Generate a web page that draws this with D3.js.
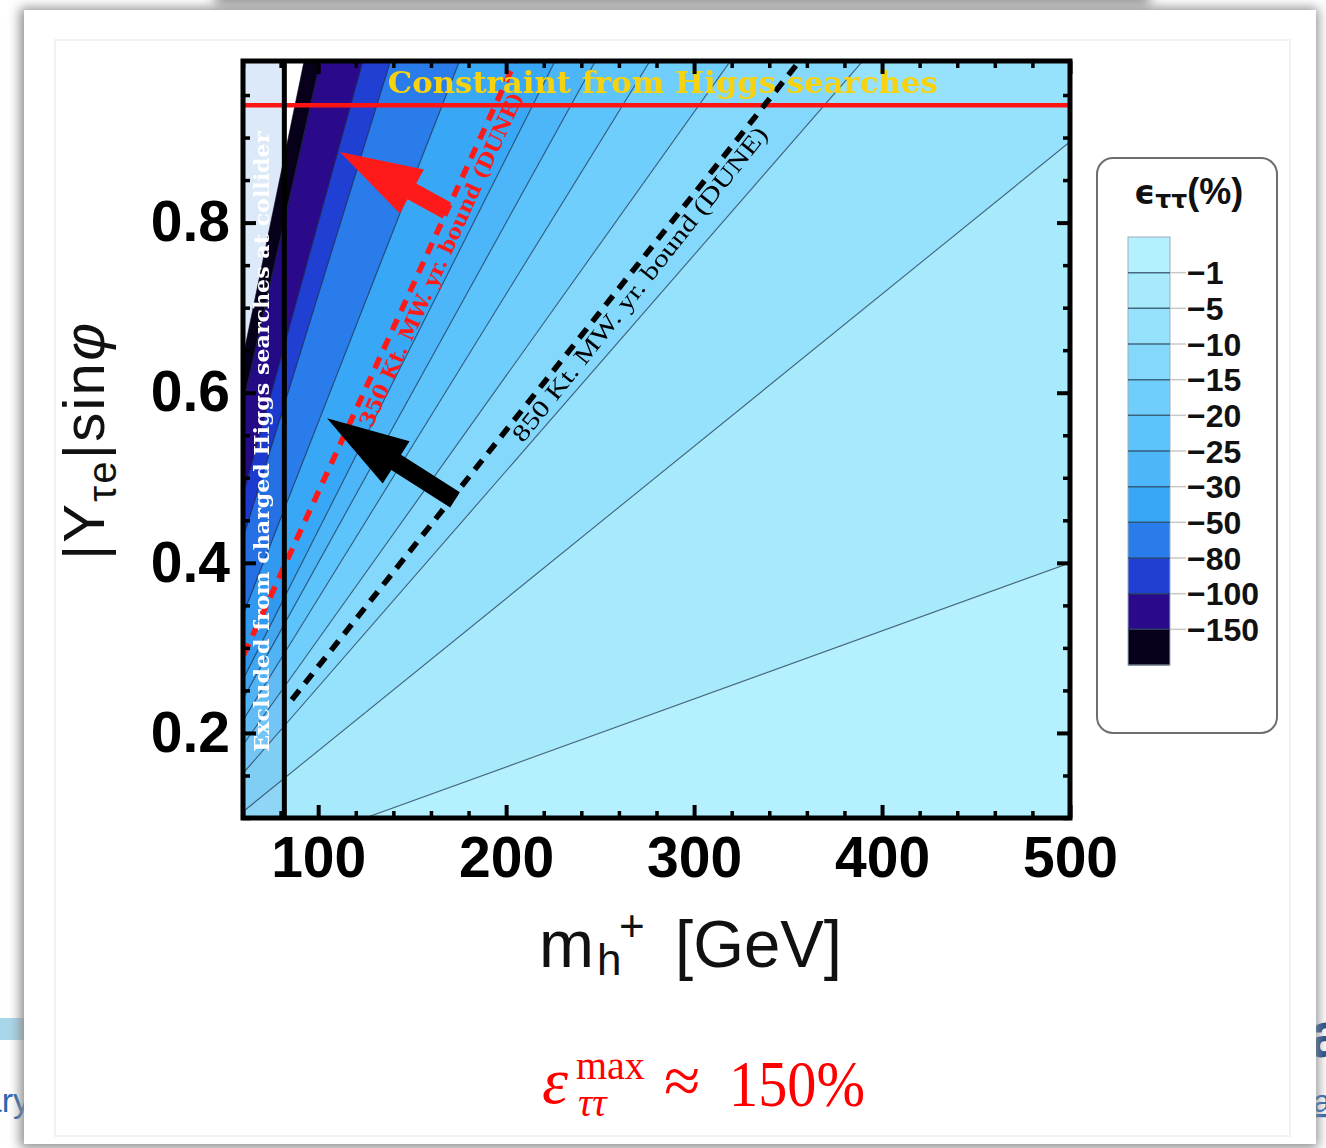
<!DOCTYPE html>
<html>
<head>
<meta charset="utf-8">
<script src="https://cdn.jsdelivr.net/npm/d3@7"></script>
<style>
  html, body { margin: 0; padding: 0; background: #fff; overflow: hidden; }
  svg { display: block; }
</style>
</head>
<body>
<svg id="chart" width="1326" height="1148"></svg>
<script>
// ε_ττ (%) contour levels and the Y/m ratio (|Y_τe| sinφ per GeV) along each contour line
const levels = [-1, -5, -10, -15, -20, -25, -30, -50, -80, -100, -150];
const contourSlopes = [0.00080, 0.00179, 0.00254, 0.00310, 0.00358, 0.00400, 0.00438, 0.00565, 0.00715, 0.00800, 0.00978];
const plotRangeSlope = 0.0107;          // surface beyond this ratio is outside the plot range (left unfilled)
const bandColors = ["#b4f0fd", "#a6eafc", "#96e2fc", "#84d8fc", "#70cefc", "#5cc4fb",
                    "#4cb6f8", "#38a8f6", "#2a7cea", "#2040d4", "#2a0a8a", "#08001a"];

// axis ticks
const xTicks = [100, 200, 300, 400, 500];
const xMinorTicks = [60, 80, 120, 140, 160, 180, 220, 240, 260, 280, 320, 340, 360, 380, 420, 440, 460, 480];
const yTicks = [0.2, 0.4, 0.6, 0.8];
const yMinorTicks = [0.1, 0.15, 0.25, 0.3, 0.35, 0.45, 0.5, 0.55, 0.65, 0.7, 0.75, 0.85, 0.9, 0.95];

// bounds and projections
const chargedHiggsBound = 82;           // GeV, collider exclusion
const higgsConstraintY = 0.938;         // Higgs-search constraint on |Y_τe| sinφ
const dune350Slope = 0.00483;           // 350 kt·MW·yr DUNE bound, Y/m
const dune850Slope = 0.00278;           // 850 kt·MW·yr DUNE bound, Y/m
const dune850StartM = 86;

const svg = d3.select("#chart");
const defs = svg.append("defs");

// ---------- slide background ----------
defs.append("filter").attr("id", "soft").attr("x", "-20%").attr("y", "-20%").attr("width", "140%").attr("height", "140%")
  .append("feGaussianBlur").attr("stdDeviation", 6);
const bg = svg.append("g");
bg.append("rect").attr("x", 215).attr("y", -24).attr("width", 935).attr("height", 30)
  .attr("fill", "#9a9a9a").attr("filter", "url(#soft)");
bg.append("rect").attr("x", 0).attr("y", 1018).attr("width", 40).attr("height", 22).attr("fill", "#a9d6ea");
bg.append("text").attr("x", 30).attr("y", 1112).attr("text-anchor", "end")
  .attr("font-family", "Liberation Sans, Arial, sans-serif").attr("font-size", 34).attr("fill", "#2a66b0").text("ary");
bg.append("text").attr("x", 1309).attr("y", 1057)
  .attr("font-family", "Liberation Sans, Arial, sans-serif").attr("font-weight", "bold").attr("font-size", 64).attr("fill", "#1d4e8f").text("a");
bg.append("text").attr("x", 1313).attr("y", 1112)
  .attr("font-family", "Liberation Sans, Arial, sans-serif").attr("font-size", 32).attr("fill", "#2a66b0")
  .attr("text-decoration", "underline").text("a");
// card with shadow
bg.append("rect").attr("x", 20).attr("y", 8).attr("width", 1298).attr("height", 1140)
  .attr("fill", "#8c8c8c").attr("filter", "url(#soft)");
bg.append("rect").attr("x", 24).attr("y", 10).attr("width", 1292).attr("height", 1134).attr("fill", "#fff");
bg.append("rect").attr("x", 55).attr("y", 40).attr("width", 1235).attr("height", 1096)
  .attr("fill", "none").attr("stroke", "#f2f2f2").attr("stroke-width", 2);

// ---------- scales ----------
const x = d3.scaleLinear().domain([60, 500]).range([243, 1070]);
const y = d3.scaleLinear().domain([0.1, 0.99]).range([818, 61]);
const FAR = 3000;
const px = p => [x(p[0]), y(p[1])];

defs.append("clipPath").attr("id", "plotClip")
  .append("rect").attr("x", x(60)).attr("y", y(0.99)).attr("width", x(500) - x(60)).attr("height", y(0.1) - y(0.99));

const plot = svg.append("g").attr("clip-path", "url(#plotClip)");
plot.append("rect").attr("x", x(60)).attr("y", y(0.99)).attr("width", x(500) - x(60)).attr("height", y(0.1) - y(0.99)).attr("fill", "#fff");

// filled contour bands: wedges between consecutive contour lines through the origin
const bands = bandColors.map((c, i) => ({
  color: c,
  lo: i === 0 ? 0 : contourSlopes[i - 1],
  hi: i === bandColors.length - 1 ? plotRangeSlope : contourSlopes[i]
}));
const line = d3.line();
plot.selectAll("path.band").data(bands).join("path")
  .attr("class", "band")
  .attr("d", b => line([[0, 0], [FAR, b.lo * FAR], [FAR, b.hi * FAR]].map(px)) + "Z")
  .attr("fill", b => b.color)
  .attr("stroke", b => b.color).attr("stroke-width", 0.6);

// contour lines
plot.selectAll("path.contour").data(contourSlopes).join("path")
  .attr("class", "contour")
  .attr("d", s => line([[0, 0], [FAR, s * FAR]].map(px)))
  .attr("fill", "none").attr("stroke", "#1c2c46").attr("stroke-opacity", 0.7).attr("stroke-width", 1.1);

// excluded strip (collider searches)
plot.append("rect").attr("x", x(60)).attr("y", y(0.99))
  .attr("width", x(chargedHiggsBound) - x(60)).attr("height", y(0.1) - y(0.99))
  .attr("fill", "#dce9f8").style("mix-blend-mode", "multiply");

// Higgs-search constraint
plot.append("line").attr("x1", x(60)).attr("x2", x(500))
  .attr("y1", y(higgsConstraintY)).attr("y2", y(higgsConstraintY))
  .attr("stroke", "#ff1414").attr("stroke-width", 4.5);

// DUNE projections
plot.append("path").attr("d", line([[0, 0], [FAR, dune350Slope * FAR]].map(px)))
  .attr("fill", "none").attr("stroke", "#ff1a1a").attr("stroke-width", 5.5)
  .attr("stroke-dasharray", "12 9");
plot.append("path").attr("d", line([[dune850StartM, dune850Slope * dune850StartM], [FAR, dune850Slope * FAR]].map(px)))
  .attr("fill", "none").attr("stroke", "#000").attr("stroke-width", 5.5)
  .attr("stroke-dasharray", "12 9");

const angleOf = s => Math.atan2(y(s * 400) - y(0), x(400) - x(0)) * 180 / Math.PI;

// line labels
plot.append("text")
  .attr("transform", `translate(${x(128.5)},${y(0.558)}) rotate(${angleOf(dune350Slope)})`)
  .attr("font-family", "DejaVu Serif, serif").attr("font-weight", "bold").attr("font-size", 21)
  .attr("fill", "#ff1a1a").attr("textLength", 365).attr("lengthAdjust", "spacingAndGlyphs")
  .text("350 Kt. MW. yr. bound (DUNE)");
plot.append("text")
  .attr("transform", `translate(${x(209)},${y(0.540)}) rotate(${angleOf(dune850Slope)})`)
  .attr("font-family", "Liberation Serif, serif").attr("font-size", 24)
  .attr("fill", "#000").attr("textLength", 395).attr("lengthAdjust", "spacingAndGlyphs")
  .text("850 Kt. MW. yr. bound (DUNE)");

plot.append("text")
  .attr("x", x(137)).attr("y", y(0.952))
  .attr("font-family", "DejaVu Serif, serif").attr("font-weight", "bold").attr("font-size", 29)
  .attr("fill", "#f7d30f").attr("textLength", 550).attr("lengthAdjust", "spacingAndGlyphs")
  .text("Constraint from Higgs searches");

plot.append("text")
  .attr("transform", `translate(${x(73.8)},${y(0.178)}) rotate(-90)`)
  .attr("font-family", "DejaVu Serif, serif").attr("font-weight", "bold").attr("font-size", 21)
  .attr("fill", "#fff").attr("textLength", 620).attr("lengthAdjust", "spacingAndGlyphs")
  .text("Excluded from charged Higgs searches at collider");

// arrows pointing towards larger couplings
const arrows = [
  { tail: [168.5, 0.814], tip: [111.6, 0.883], color: "#ff1a1a" },
  { tail: [172.8, 0.474], tip: [104.7, 0.570], color: "#000" }
];
function arrowShape(a) {
  const [tx, ty] = px(a.tail), [hx, hy] = px(a.tip);
  const dx = hx - tx, dy = hy - ty, L = Math.hypot(dx, dy);
  const ux = dx / L, uy = dy / L, nx = -uy, ny = ux;
  const shaft = 9, head = 25, headLen = 82;
  const bx = hx - ux * headLen, by = hy - uy * headLen;
  return line([
    [tx + nx * shaft, ty + ny * shaft], [bx + nx * shaft, by + ny * shaft], [bx + nx * head, by + ny * head],
    [hx, hy],
    [bx - nx * head, by - ny * head], [bx - nx * shaft, by - ny * shaft], [tx - nx * shaft, ty - ny * shaft]
  ]) + "Z";
}
plot.selectAll("path.arrow").data(arrows).join("path").attr("class", "arrow")
  .attr("d", arrowShape).attr("fill", d => d.color);

// collider bound
plot.append("line").attr("x1", x(chargedHiggsBound)).attr("x2", x(chargedHiggsBound))
  .attr("y1", y(0.1)).attr("y2", y(0.99)).attr("stroke", "#000").attr("stroke-width", 5);

// ---------- frame and axes ----------
const tickFont = "Liberation Sans, Arial, sans-serif";
function styleAxis(g, width) {
  g.select(".domain").remove();
  g.selectAll(".tick line").attr("stroke", "#000").attr("stroke-width", width);
  g.selectAll(".tick text").attr("font-family", tickFont).attr("font-weight", "bold").attr("font-size", 57).attr("fill", "#000");
}
svg.append("g").attr("transform", `translate(0,${y(0.1)})`)
  .call(d3.axisBottom(x).tickValues(xTicks).tickSizeInner(-13).tickSizeOuter(0).tickPadding(19).tickFormat(d3.format("d")))
  .call(g => styleAxis(g, 4));
svg.append("g").attr("transform", `translate(0,${y(0.1)})`)
  .call(d3.axisBottom(x).tickValues(xMinorTicks).tickSize(-7).tickFormat(""))
  .call(g => styleAxis(g, 3.5));
svg.append("g").attr("transform", `translate(0,${y(0.99)})`)
  .call(d3.axisTop(x).tickValues(xTicks).tickSize(-13).tickFormat(""))
  .call(g => styleAxis(g, 4));
svg.append("g").attr("transform", `translate(0,${y(0.99)})`)
  .call(d3.axisTop(x).tickValues(xMinorTicks).tickSize(-7).tickFormat(""))
  .call(g => styleAxis(g, 3.5));
svg.append("g").attr("transform", `translate(${x(60)},0)`)
  .call(d3.axisLeft(y).tickValues(yTicks).tickSizeInner(-13).tickSizeOuter(0).tickPadding(13).tickFormat(d3.format(".1f")))
  .call(g => styleAxis(g, 4));
svg.append("g").attr("transform", `translate(${x(60)},0)`)
  .call(d3.axisLeft(y).tickValues(yMinorTicks).tickSize(-7).tickFormat(""))
  .call(g => styleAxis(g, 3.5));
svg.append("g").attr("transform", `translate(${x(500)},0)`)
  .call(d3.axisRight(y).tickValues(yTicks).tickSize(-13).tickFormat(""))
  .call(g => styleAxis(g, 4));
svg.append("g").attr("transform", `translate(${x(500)},0)`)
  .call(d3.axisRight(y).tickValues(yMinorTicks).tickSize(-7).tickFormat(""))
  .call(g => styleAxis(g, 3.5));

svg.append("rect").attr("x", x(60)).attr("y", y(0.99)).attr("width", x(500) - x(60)).attr("height", y(0.1) - y(0.99))
  .attr("fill", "none").attr("stroke", "#000").attr("stroke-width", 5);

// axis titles
const xt = svg.append("g").attr("font-family", tickFont).attr("fill", "#111");
xt.append("text").attr("x", 539).attr("y", 967).attr("font-size", 66).text("m");
xt.append("text").attr("x", 597).attr("y", 975).attr("font-size", 44).text("h");
xt.append("text").attr("x", 619).attr("y", 941).attr("font-size", 44).text("+");
xt.append("text").attr("x", 675).attr("y", 967).attr("font-size", 66)
  .attr("textLength", 167).attr("lengthAdjust", "spacingAndGlyphs").text("[GeV]");

const yt = svg.append("text").attr("transform", "translate(104,560) rotate(-90)")
  .attr("font-family", tickFont).attr("fill", "#111").attr("font-size", 58)
  .attr("textLength", 237).attr("lengthAdjust", "spacing");
yt.append("tspan").text("|Y");
yt.append("tspan").attr("font-size", 40).attr("dy", 12).text("τe");
yt.append("tspan").attr("dy", -12).text("|sin");
yt.append("tspan").attr("font-style", "italic").text("φ");

// ---------- legend ----------
const leg = svg.append("g");
leg.append("rect").attr("x", 1097).attr("y", 158).attr("width", 180).attr("height", 575).attr("rx", 16)
  .attr("fill", "#fff").attr("stroke", "#6e6e6e").attr("stroke-width", 2);
const lt = leg.append("text").attr("x", 1134).attr("y", 204)
  .attr("font-family", "DejaVu Sans, sans-serif").attr("font-weight", "bold").attr("font-size", 33).attr("fill", "#111");
lt.append("tspan").text("ϵ");
lt.append("tspan").attr("font-size", 25).attr("dy", 4).text("ττ");
lt.append("tspan").attr("font-family", tickFont).attr("font-size", 36).attr("dy", -4).text("(%)");

const cb = d3.scaleBand().domain(d3.range(bandColors.length)).range([237, 665]);
leg.selectAll("rect.cb").data(bandColors).join("rect").attr("class", "cb")
  .attr("x", 1128).attr("width", 42).attr("y", (d, i) => cb(i)).attr("height", cb.bandwidth() + 0.5)
  .attr("fill", d => d);
leg.append("rect").attr("x", 1128).attr("y", 237).attr("width", 42).attr("height", 428)
  .attr("fill", "none").attr("stroke", "#9ab0bc").attr("stroke-width", 1);
const boundaryY = i => cb(i) + cb.bandwidth();
leg.selectAll("line.sep").data(levels).join("line").attr("class", "sep")
  .attr("x1", 1128).attr("x2", 1170).attr("y1", (d, i) => boundaryY(i)).attr("y2", (d, i) => boundaryY(i))
  .attr("stroke", "#2c4a60").attr("stroke-width", 1.5).attr("stroke-opacity", 0.8);
leg.selectAll("line.tk").data(levels).join("line").attr("class", "tk")
  .attr("x1", 1170).attr("x2", 1186).attr("y1", (d, i) => boundaryY(i)).attr("y2", (d, i) => boundaryY(i))
  .attr("stroke", "#c8c8c8").attr("stroke-width", 1.5);
leg.selectAll("text.lv").data(levels).join("text").attr("class", "lv")
  .attr("x", 1187).attr("y", (d, i) => boundaryY(i)).attr("dy", "0.36em")
  .attr("font-family", tickFont).attr("font-weight", "bold").attr("font-size", 32).attr("fill", "#111")
  .text(d => d3.format("d")(d));

// ---------- maximum effect ----------
const fm = svg.append("g").attr("font-family", "Liberation Serif, Times New Roman, serif").attr("fill", "#ff0000");
fm.append("text").attr("x", 542).attr("y", 1103).attr("font-size", 66).attr("font-style", "italic").text("ε");
fm.append("text").attr("x", 576).attr("y", 1079).attr("font-size", 40).text("max");
fm.append("text").attr("x", 578).attr("y", 1116).attr("font-size", 40).attr("font-style", "italic").text("ττ");
fm.append("text").attr("x", 664).attr("y", 1103).attr("font-size", 66).text("≈");
fm.append("text").attr("x", 729).attr("y", 1106).attr("font-size", 66)
  .attr("textLength", 136).attr("lengthAdjust", "spacingAndGlyphs").text("150%");
</script>
</body>
</html>
